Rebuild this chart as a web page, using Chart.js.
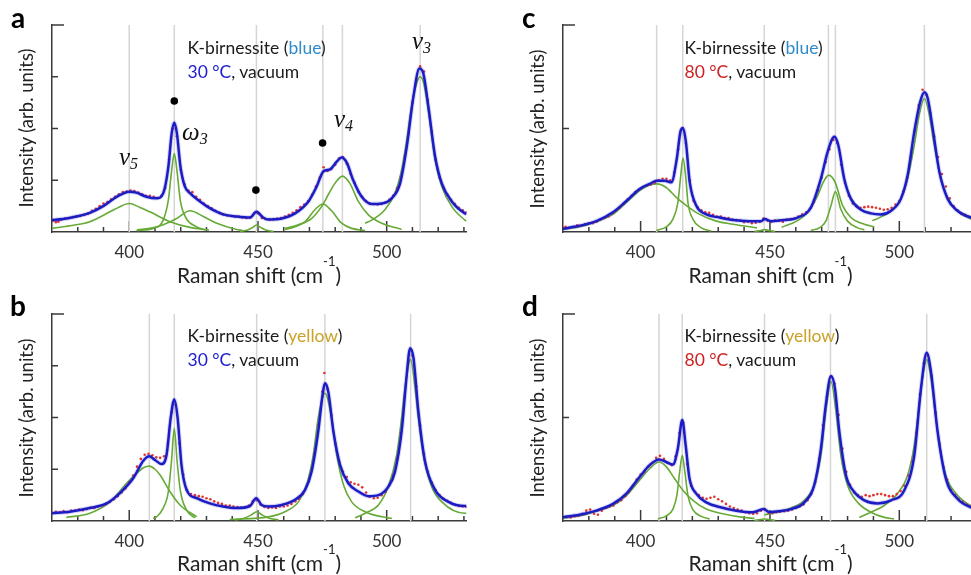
<!DOCTYPE html>
<html><head><meta charset="utf-8">
<script src="https://cdn.jsdelivr.net/npm/chart.js@4.4.1/dist/chart.umd.min.js"></script>
<style>
body{margin:0;width:971px;height:575px;overflow:hidden;background:#fff;position:relative;font-family:Lato,sans-serif;color:#1a1a1a}
canvas{position:absolute}
.t{position:absolute;white-space:nowrap}
.lab{font-weight:bold;font-size:28px;line-height:1;color:#000}
.ann{font-size:17.5px;line-height:24px}
.xt{font-size:21px;line-height:1;width:300px;text-align:center;color:#222}
.xt span{font-size:13px;position:relative;top:-17px}
.yt{font-size:18.5px;line-height:20px;width:240px;height:20px;text-align:center;transform:rotate(-90deg);color:#222}
.gr{font-family:'Liberation Serif',serif;font-style:italic;font-size:25px;line-height:1;color:#111}
.gr span{font-size:16px;position:relative;top:4px}
</style></head><body>
<canvas id="ca" width="490" height="285" style="left:0;top:0"></canvas>
<canvas id="cb" width="490" height="285" style="left:0;top:289px"></canvas>
<canvas id="cc" width="500" height="285" style="left:490px;top:0"></canvas>
<canvas id="cd" width="500" height="285" style="left:490px;top:289px"></canvas>

<div class="t lab" style="left:11px;top:3px">a</div>
<div class="t lab" style="left:10px;top:291px">b</div>
<div class="t lab" style="left:522px;top:3px">c</div>
<div class="t lab" style="left:522px;top:291px">d</div>

<div class="t ann" style="left:187.5px;top:36px">K-birnessite (<span style="color:#2e8bcb">blue</span>)<br><span style="color:#2020d0">30 °C</span>, vacuum</div>
<div class="t ann" style="left:187.5px;top:324px">K-birnessite (<span style="color:#c9a227">yellow</span>)<br><span style="color:#2020d0">30 °C</span>, vacuum</div>
<div class="t ann" style="left:684.5px;top:36px">K-birnessite (<span style="color:#2e8bcb">blue</span>)<br><span style="color:#cc2222">80 °C</span>, vacuum</div>
<div class="t ann" style="left:684.5px;top:324px">K-birnessite (<span style="color:#c9a227">yellow</span>)<br><span style="color:#cc2222">80 °C</span>, vacuum</div>

<div class="t xt" style="left:109px;top:264px">Raman shift (cm<span>-1</span>)</div>
<div class="t xt" style="left:109px;top:551.5px">Raman shift (cm<span>-1</span>)</div>
<div class="t xt" style="left:620.5px;top:264px">Raman shift (cm<span>-1</span>)</div>
<div class="t xt" style="left:620.5px;top:551.5px">Raman shift (cm<span>-1</span>)</div>

<div class="t yt" style="left:-93.7px;top:118px">Intensity (arb. units)</div>
<div class="t yt" style="left:-93.7px;top:407.6px">Intensity (arb. units)</div>
<div class="t yt" style="left:416.7px;top:119px">Intensity (arb. units)</div>
<div class="t yt" style="left:416.7px;top:407.5px">Intensity (arb. units)</div>

<div class="t gr" style="left:119px;top:144px">ν<span>5</span></div>
<div class="t gr" style="left:182px;top:119px">ω<span>3</span></div>
<div class="t gr" style="left:334px;top:106px">ν<span>4</span></div>
<div class="t gr" style="left:412px;top:27.5px">ν<span>3</span></div>

<script>
// ---------- data (x: Raman shift cm-1, y: intensity, arb. units) ----------
const xTickValues = [380,390,400,410,420,430,440,450,460,470,480,490,500,510,520,530];

// panel a: K-birnessite (blue), 30 °C
const aPeakLines = [400, 417.5, 449.4, 475.2, 482.8, 513];
const aMarkers = [[417.5,2.53],[449.2,0.81],[475.1,1.72]];
const aFit = [[369.8,.23],[374.4,.25],[379.5,.30],[384.7,.37],[389.9,.50],[395.1,.68],[400,.78],[402.8,.76],[406.7,.68],[410.6,.65],[413.2,.75],[415.2,1.26],[416.5,1.91],[417.5,2.11],[418.5,1.91],[419.9,1.26],[421.6,.88],[423.6,.75],[427.5,.59],[431.3,.46],[436.5,.34],[441.7,.30],[446.9,.28],[449.4,.39],[452,.28],[454,.24],[459.2,.26],[464.4,.36],[469.6,.59],[472.8,.88],[475.4,1.17],[478,1.21],[480.6,1.36],[482.5,1.44],[484.5,1.34],[487,1.00],[490.3,.68],[494.2,.54],[498.1,.55],[501.9,.65],[505.2,.94],[507.8,1.65],[510.4,2.62],[512.7,3.16],[514.2,3.07],[516.2,2.42],[518.8,1.46],[521.4,.94],[525.3,.59],[530.4,.36],[531,.35]];
const aComponents = [
 [[370,.07],[377,.12],[384.7,.20],[392.5,.39],[396,.48],[400,.55],[404,.48],[408,.39],[415.8,.20],[423.6,.09],[431,.04]],
 [[402.8,.03],[409.3,.07],[413.2,.23],[415.2,.62],[416.5,1.2],[417.5,1.52],[418.5,1.2],[419.9,.59],[422.2,.26],[426.2,.10],[429.4,.04]],
 [[403,.04],[409,.08],[413.2,.14],[418.4,.26],[423.6,.41],[428.8,.30],[434,.17],[441.7,.05],[444,.03]],
 [[443,.01],[446,.04],[448,.09],[449.4,.135],[451,.09],[453,.04],[456,.01]],
 [[460.5,.05],[464.4,.10],[468.3,.20],[472.1,.43],[475.2,.54],[478.6,.41],[482.5,.17],[486.4,.07],[491.6,.03]],
 [[460.5,.07],[465.7,.14],[470.8,.26],[474.7,.49],[477.3,.72],[479.9,.94],[482.8,1.08],[485.7,.94],[489,.59],[492.9,.33],[498.1,.17],[505.8,.05]],
 [[491.6,.17],[494.2,.23],[499.3,.43],[503.2,.75],[505.8,1.20],[507.8,1.78],[509.7,2.45],[511.5,2.85],[513,3.0],[514.5,2.85],[516.3,2.3],[518.8,1.39],[521.4,.88],[525.3,.49],[530.4,.23],[531,.21]]
];
const aMeasured = [[370.5,.22],[371.5,.19],[372.5,.2],[373.5,.24],[375,.26],[376.5,.27],[378,.29],[379.5,.3],[381,.31],[382.5,.33],[384,.36],[385.5,.41],[387,.45],[388.5,.5],[390,.55],[391.5,.58],[393,.63],[394.5,.68],[396,.73],[397.5,.77],[399,.78],[400.5,.8],[402,.79],[403.5,.76],[405,.73],[406.5,.7],[408,.7],[409.5,.68],[411,.66],[412.5,.7],[414,.85],[415.5,1.4],[417,2.0],[418.5,1.85],[420,1.2],[421.5,.92],[423,.8],[424.5,.77],[426,.68],[427.5,.62],[429,.55],[430.5,.5],[432,.46],[433.5,.41],[435,.37],[436.5,.34],[438,.32],[439.5,.31],[441,.3],[442.5,.3],[444,.28],[445.5,.27],[447,.28],[448.5,.36],[450,.36],[451.5,.27],[453,.25],[454.5,.24],[456,.25],[457.5,.26],[459,.27],[460.5,.3],[462,.33],[463.5,.37],[465,.42],[466.5,.48],[468,.53],[469.5,.6],[471,.72],[472.5,.88],[474,1.05],[475.5,1.25],[477,1.18],[478.5,1.22],[480,1.3],[481.5,1.42],[483,1.45],[484.5,1.32],[486,1.12],[487.5,.95],[489,.78],[490.5,.68],[492,.6],[493.5,.55],[495,.54],[496.5,.53],[498,.54],[499.5,.57],[501,.62],[502.5,.7],[504,.85],[505.5,1.05],[507,1.45],[508.5,1.9],[510,2.5],[511.5,2.95],[513,3.2],[514.5,3.1],[516,2.55],[517.5,1.95],[519,1.4],[520.5,1.05],[522,.85],[523.5,.72],[525,.62],[526.5,.54],[528,.47],[529.5,.42],[531,.38]];

// panel b: K-birnessite (yellow), 30 °C
const bPeakLines = [407.8, 417.5, 449.5, 476, 509.3];
const bFit = [[369.8,.15],[376.9,.18],[384.7,.25],[391.2,.34],[396.4,.54],[401.6,.83],[405.4,1.16],[407.8,1.25],[410,1.18],[412.6,1.10],[414.5,1.28],[416.1,1.99],[417.5,2.35],[418.8,1.99],[420.3,1.08],[422.3,.60],[426.2,.44],[431.3,.34],[436.5,.28],[441.7,.25],[446.9,.29],[449.3,.44],[451.4,.31],[454,.28],[459.2,.31],[464.4,.41],[468.3,.60],[470.8,.95],[473.4,1.73],[475.1,2.44],[476,2.66],[477.3,2.50],[479.3,1.73],[481.9,1.08],[485.1,.73],[489,.57],[492.9,.48],[496.8,.50],[500.6,.66],[503.2,.95],[505.8,1.73],[507.8,2.83],[509.1,3.34],[510.4,3.15],[512.3,2.12],[514.9,1.15],[518.8,.60],[524,.37],[530.4,.29],[531,.29]];
const bComponents = [
 [[375.6,.07],[384.7,.15],[392.5,.37],[399,.73],[402.8,.92],[405.5,1.03],[407.8,1.06],[410,1.0],[412,.89],[415.8,.57],[419.7,.31],[426.2,.08]],
 [[409.3,.05],[410.6,.08],[413.2,.25],[415.2,.57],[416.4,1.15],[417.5,1.79],[418.6,1.15],[419.9,.57],[422.3,.21],[425.5,.06]],
 [[441,.02],[445,.06],[447.5,.12],[449.5,.18],[451.5,.12],[454,.06],[458,.02]],
 [[439,.03],[454,.08],[460.5,.18],[465.7,.37],[468.9,.70],[471.5,1.28],[473.4,1.99],[476,2.47],[478.6,1.99],[480.6,1.28],[483.2,.70],[486.4,.37],[491.6,.18],[500.6,.06],[502,.05]],
 [[487.7,.06],[491.6,.15],[496.8,.31],[500.6,.66],[503.9,1.28],[505.8,1.99],[507.1,2.57],[509.3,3.12],[511,2.57],[512.3,1.99],[514.2,1.28],[517.5,.66],[521.4,.37],[530.4,.15],[531,.15]]
];
const bMeasured = [[370,.16],[371.5,.18],[373,.17],[374.5,.19],[376,.17],[377.5,.2],[379,.2],[380.5,.22],[382,.21],[383.5,.23],[385,.26],[386.5,.25],[388,.28],[389.5,.3],[391,.33],[392.5,.37],[394,.42],[395.5,.48],[397,.55],[398.5,.63],[400,.75],[401.5,.88],[403,1.05],[404.5,1.2],[406,1.28],[407.5,1.3],[409,1.27],[410.5,1.23],[412,1.22],[413.5,1.25],[415,1.5],[416.5,2.1],[418,2.25],[419.5,1.5],[421,.9],[422.5,.6],[424,.52],[425.5,.5],[427,.48],[428.5,.47],[430,.44],[431.5,.42],[433,.38],[434.5,.35],[436,.33],[437.5,.3],[439,.3],[440.5,.28],[442,.27],[443.5,.26],[445,.27],[446.5,.3],[448,.38],[449.5,.4],[451,.32],[452.5,.27],[454,.25],[455.5,.26],[457,.25],[458.5,.28],[460,.28],[461.5,.3],[463,.33],[464.5,.38],[466,.43],[467.5,.52],[469,.68],[470.5,.9],[472,1.3],[473.5,1.85],[475,2.5],[475.8,2.86],[477,2.55],[478.5,2.05],[480,1.5],[481.5,1.15],[483,.95],[484.5,.85],[486,.75],[487.5,.72],[489,.7],[490.5,.65],[492,.55],[493.5,.47],[495,.44],[496.5,.45],[498,.5],[499.5,.56],[501,.7],[502.5,.88],[504,1.2],[505.5,1.7],[507,2.4],[508.5,3.1],[510,3.2],[511.5,2.6],[513,1.85],[514.5,1.3],[516,.95],[517.5,.75],[519,.6],[520.5,.5],[522,.43],[523.5,.39],[525,.35],[526.5,.31],[528,.29],[529.5,.28],[531,.27]];

// panel c: K-birnessite (blue), 80 °C
const cPeakLines = [406.2, 416.3, 447.8, 472.6, 475.3, 509.7];
const cFit = [[369.6,.06],[376.4,.12],[382.9,.21],[389.3,.38],[394.5,.60],[399.6,.83],[403.5,.93],[406.3,.99],[409.3,.99],[411.9,.96],[414,1.42],[415.4,1.94],[416.4,2.01],[417.5,1.74],[419,.96],[421.5,.51],[425.4,.34],[430.5,.28],[435.7,.23],[442.1,.21],[446.6,.21],[447.9,.25],[450.4,.21],[455.5,.23],[460.7,.28],[465.8,.47],[469.7,1.03],[472.3,1.55],[474.9,1.84],[476.4,1.68],[478.7,1.03],[481.3,.64],[485.2,.43],[489,.36],[492.9,.34],[496.8,.41],[500.6,.64],[503.2,1.09],[505.8,1.94],[508.1,2.52],[509.7,2.70],[511,2.58],[512.9,2.00],[515.5,1.16],[518.7,.64],[522.5,.41],[527,.29],[531,.25]];
const cComponents = [
 [[369.6,.05],[376.4,.10],[382.9,.20],[389.3,.34],[394.5,.57],[399.6,.80],[403.5,.91],[406.3,.93],[409.9,.86],[413.8,.67],[417.7,.51],[422.8,.34],[429.3,.21],[435.7,.15],[442.1,.10],[445,.08]],
 [[406.1,.03],[409.9,.10],[412.5,.25],[414.4,.57],[415.4,1.03],[416.4,1.43],[417.5,1.03],[418.3,.57],[420.2,.25],[423.5,.08],[427.3,.02]],
 [[444,.01],[446.5,.03],[447.9,.045],[449.5,.03],[452,.01]],
 [[454.5,.09],[460.7,.22],[464.6,.38],[468.4,.70],[470.6,.96],[472.7,1.10],[475.2,.96],[478.1,.51],[481.3,.28],[486.5,.15],[490.3,.10]],
 [[465.8,.03],[469.1,.08],[471.6,.21],[473.6,.51],[475.3,.78],[477.4,.44],[480,.21],[483.9,.08],[486.5,.04]],
 [[489.5,.22],[491.6,.26],[496.8,.41],[500.6,.64],[503.2,1.03],[505.8,1.68],[507.7,2.26],[509.7,2.58],[511.6,2.26],[513.5,1.68],[516.1,1.03],[519.3,.60],[523.2,.38],[527.7,.25],[531,.2]]
];
const cMeasured = [[370,.08],[371,.1],[372.5,.08],[374,.1],[375.5,.13],[377,.12],[378.5,.15],[380,.17],[381.5,.17],[383,.2],[384.5,.24],[386,.27],[387.5,.3],[389,.36],[390.5,.42],[392,.47],[393.5,.55],[395,.63],[396.5,.7],[398,.77],[399.5,.82],[401,.87],[402.5,.9],[404,.92],[405.5,.95],[407,1.0],[408.5,1.03],[410,1.03],[411.5,1.0],[413,1.15],[414.5,1.6],[416,2.0],[417.5,1.72],[419,1.0],[420.5,.6],[422,.48],[423.5,.42],[425,.38],[426.5,.37],[428,.33],[429.5,.3],[431,.3],[432.5,.27],[434,.27],[435.5,.24],[437,.23],[438.5,.22],[440,.19],[441.5,.2],[443,.17],[444.5,.18],[446,.2],[447.5,.26],[449,.22],[450.5,.2],[452,.22],[453.5,.22],[455,.2],[456.5,.24],[458,.25],[459.5,.26],[461,.3],[462.5,.34],[464,.38],[465.5,.45],[467,.58],[468.5,.8],[470,1.05],[471.5,1.35],[473,1.6],[474.5,1.78],[476,1.72],[477.5,1.3],[479,.95],[480.5,.7],[482,.55],[483.5,.5],[485,.47],[486.5,.48],[488,.49],[489.5,.48],[491,.47],[492.5,.45],[494,.43],[495.5,.44],[497,.47],[498.5,.53],[500,.6],[501.5,.78],[503,1.05],[504.5,1.45],[506,1.95],[507.5,2.45],[509,2.75],[510.5,2.65],[512,2.3],[513.5,1.85],[515,1.45],[516.5,1.12],[518,.88],[519.5,.65],[521,.5],[522.5,.42],[524,.35],[525.5,.33],[527,.3],[528.5,.28],[530,.26]];

// panel d: K-birnessite (yellow), 80 °C
const dPeakLines = [407.1, 416.1, 447.9, 473.4, 510.6];
const dFit = [[369.6,.07],[376.4,.12],[382.9,.20],[389.3,.33],[394.5,.53],[399.6,.85],[403.5,1.08],[407.1,1.19],[409.9,1.14],[412.5,1.09],[414.4,1.40],[416.1,1.95],[417.4,1.47],[418.9,.82],[421.5,.53],[425.4,.36],[430.5,.27],[437,.20],[443.4,.17],[447.6,.23],[449.9,.17],[451.7,.18],[458.1,.23],[463.3,.36],[467.1,.69],[469.7,1.40],[471.6,2.25],[473.6,2.80],[475.1,2.57],[476.8,1.73],[479.4,.88],[482.6,.56],[486.5,.40],[491.6,.34],[496.8,.40],[501.9,.59],[505.8,1.27],[508.4,2.57],[510.6,3.25],[512.2,2.90],[514.8,1.73],[518,.82],[522.5,.43],[527.4,.27],[531,.22]];
const dComponents = [
 [[369.6,.05],[376.4,.10],[382.9,.19],[389.3,.30],[394.5,.49],[399.6,.79],[403.5,1.01],[407.1,1.14],[409.9,1.05],[413.1,.82],[416.4,.59],[420.2,.40],[425.4,.23],[431.8,.14],[439.6,.07],[444,.05]],
 [[406.7,.04],[409.9,.10],[412.5,.23],[414,.49],[415.1,.95],[416.1,1.27],[417.1,.95],[418.3,.49],[420.2,.22],[423.5,.09],[426.7,.04]],
 [[444,.01],[446.5,.03],[447.9,.04],[449.5,.03],[452,.01]],
 [[447.8,.12],[451.7,.16],[458.1,.25],[463.3,.40],[467.1,.69],[469.7,1.27],[471.6,2.12],[473.6,2.69],[475.5,2.12],[477.4,1.27],[480,.69],[483.9,.36],[489,.17],[494.2,.07],[498,.04]],
 [[484.5,.07],[489,.17],[494.2,.30],[499.3,.53],[503.2,.88],[505.8,1.47],[507.7,2.25],[509,2.77],[510.6,3.12],[512.2,2.77],[513.5,2.25],[515.5,1.47],[518,.88],[521.9,.53],[527.1,.31],[531,.24]]
];
const dMeasured = [[370,.07],[371.5,.08],[373,.07],[374.5,.09],[376,.1],[377.5,.14],[379,.2],[380.5,.22],[382,.14],[383.5,.12],[385,.2],[386.5,.25],[388,.28],[389.5,.3],[391,.36],[392.5,.4],[394,.48],[395.5,.56],[397,.68],[398.5,.8],[400,.9],[401.5,.95],[403,1.05],[404.5,1.12],[406,1.22],[407.5,1.26],[409,1.2],[410.5,1.12],[412,1.08],[413.5,1.25],[415,1.7],[416.5,1.9],[418,1.1],[419.5,.68],[421,.56],[422.5,.5],[424,.45],[425.5,.43],[427,.45],[428.5,.47],[430,.42],[431.5,.38],[433,.33],[434.5,.28],[436,.25],[437.5,.22],[439,.2],[440.5,.17],[442,.15],[443.5,.14],[445,.15],[446.5,.2],[448,.22],[449.5,.16],[451,.15],[452.5,.17],[454,.18],[455.5,.19],[457,.2],[458.5,.22],[460,.25],[461.5,.28],[463,.32],[464.5,.4],[466,.52],[467.5,.75],[469,1.2],[470.5,1.85],[472,2.4],[473.5,2.78],[475,2.65],[476.5,2.05],[478,1.4],[479.5,.95],[481,.7],[482.5,.55],[484,.5],[485.5,.47],[487,.5],[488.5,.48],[490,.5],[491.5,.52],[493,.52],[494.5,.5],[496,.48],[497.5,.48],[499,.52],[500.5,.58],[502,.68],[503.5,.88],[505,1.15],[506.5,1.7],[508,2.45],[509.5,3.05],[511,3.2],[512.5,2.8],[514,2.1],[515.5,1.5],[517,1.05],[518.5,.8],[520,.6],[521.5,.5],[523,.42],[524.5,.37],[526,.32],[527.5,.28],[529,.26]];

// ---------- drawing ----------
const AXIS = '#3a3a3a', GREEN = '#67aa37', BLUE = '#1c1cc4', RED = '#e5332b', GRAY = '#d5d5d5';
const pts = arr => arr.map(p => ({x:p[0], y:p[1]}));

const inTicks = {
  id:'inTicks',
  beforeDatasetsDraw(chart){
    const {ctx, chartArea:ca, scales:{x, y}} = chart;
    ctx.save(); ctx.strokeStyle = AXIS; ctx.lineWidth = 1.5;
    x.ticks.forEach(t => {
      const px = x.getPixelForValue(t.value), L = t.value % 50 === 0 ? 11 : 5;
      ctx.beginPath(); ctx.moveTo(px, ca.bottom); ctx.lineTo(px, ca.bottom - L); ctx.stroke();
    });
    y.ticks.forEach(t => {
      if (t.value === 0) return;
      const py = y.getPixelForValue(t.value), L = t.value === y.max ? 12 : 6;
      ctx.beginPath(); ctx.moveTo(ca.left, py); ctx.lineTo(ca.left + L, py); ctx.stroke();
    });
    ctx.restore();
  }
};

function panel(id, o){
  const ds = [];
  o.lines.forEach(v => ds.push({data:[{x:v,y:0},{x:v,y:4}], showLine:true, borderColor:GRAY, borderWidth:1.5, pointRadius:0, order:9}));
  o.comps.forEach(c => ds.push({data:pts(c), showLine:true, borderColor:GREEN, borderWidth:1.6, pointRadius:0, cubicInterpolationMode:'monotone', order:8}));
  ds.push({data:pts(o.meas), showLine:false, pointRadius:1.3, pointBackgroundColor:RED, pointBorderWidth:0, order:7});
  ds.push({data:pts(o.fit), showLine:true, borderColor:'rgba(70,70,220,0.22)', borderWidth:4.5, pointRadius:0, cubicInterpolationMode:'monotone', order:6});
  ds.push({data:pts(o.fit), showLine:true, borderColor:BLUE, borderWidth:2.5, pointRadius:0, cubicInterpolationMode:'monotone', order:5});
  if (o.markers) ds.push({data:pts(o.markers), showLine:false, pointRadius:3.8, pointBackgroundColor:'#000', pointBorderWidth:0, order:1});
  new Chart(document.getElementById(id), {
    type:'scatter',
    data:{datasets:ds},
    plugins:[inTicks],
    options:{
      responsive:false, animation:false, events:[],
      layout:{padding:{top:25, right:o.padRight, left:0, bottom:0}},
      plugins:{legend:{display:false}, tooltip:{enabled:false}},
      scales:{
        x:{type:'linear', min:370, max:531,
           grid:{display:false, drawTicks:false},
           border:{display:true, color:AXIS, width:1.5},
           afterBuildTicks: s => { s.ticks = xTickValues.map(v => ({value:v})); },
           afterFit: s => { s.height = 53; },
           ticks:{autoSkip:false, maxRotation:0, padding:10, color:'#333', font:{family:'Lato', size:17},
                  callback: v => (v % 50 === 0 ? String(v) : '')}},
        y:{type:'linear', min:0, max:4,
           grid:{display:false, drawTicks:false},
           border:{display:true, color:AXIS, width:1.5},
           afterBuildTicks: s => { s.ticks = o.yticks.map(v => ({value:v})); },
           afterFit: s => { s.width = o.left; },
           ticks:{display:false}}
      }
    }
  });
}

panel('ca', {lines:aPeakLines, comps:aComponents, meas:aMeasured, fit:aFit, markers:aMarkers, yticks:[0,1,2,3,4], left:52, padRight:23.5});
panel('cb', {lines:bPeakLines, comps:bComponents, meas:bMeasured, fit:bFit, yticks:[0,1,2,3,4], left:52, padRight:23.5});
panel('cc', {lines:cPeakLines, comps:cComponents, meas:cMeasured, fit:cFit, yticks:[0,2,4], left:73, padRight:10.5});
panel('cd', {lines:dPeakLines, comps:dComponents, meas:dMeasured, fit:dFit, yticks:[0,2,4], left:73, padRight:10.5});
</script>
</body></html>
